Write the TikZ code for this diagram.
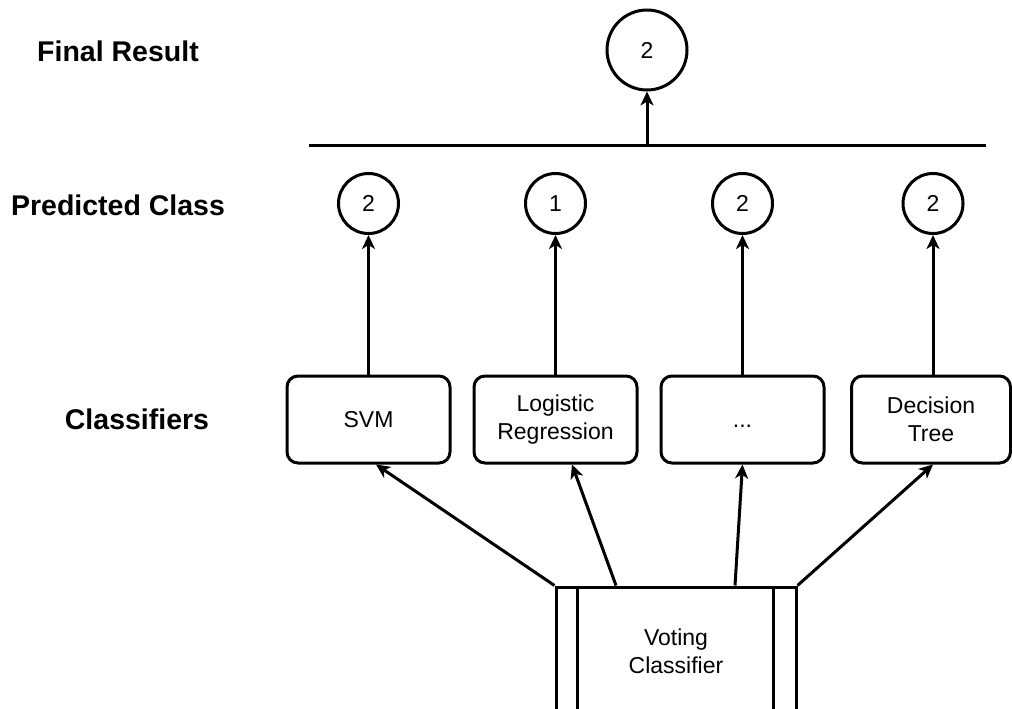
\documentclass[tikz,border=0pt]{standalone}
\usepackage{fontspec}
\setmainfont{Liberation Sans}
\usetikzlibrary{arrows.meta}

\tikzset{
  base/.style={line width=3pt, draw=black},
  body/.style={font=\fontsize{23}{28}\selectfont, align=center},
  level/.style={font=\fontsize{28.5}{34}\selectfont\bfseries, anchor=center},
  classbox/.style={base, body, rounded corners=11pt, minimum width=163pt, minimum height=87pt, inner sep=0pt},
  vote/.style={base, circle, body, minimum size=60pt, inner sep=0pt},
  final/.style={base, circle, body, minimum size=80pt, inner sep=0pt},
  procbox/.style={base, body, minimum width=240pt, minimum height=128pt, inner sep=0pt},
  arr/.style={base, -{Stealth[length=14pt, width=13pt, inset=4pt]}},
}

\begin{document}
\begin{tikzpicture}[x=1pt, y=-1pt]
  \useasboundingbox (0,0) rectangle (1012,709);
  \clip (0,0) rectangle (1012,709);

  % row labels
  \node[level] (lfinal) at (118,51)  {Final Result};
  \node[level] (lpred)  at (118,205) {Predicted Class};
  \node[level] (lclf)   at (137,419) {Classifiers};

  % final result and combining bar
  \node[final] (top) at (647,50) {2};
  \coordinate (barL) at (309,145);
  \coordinate (barR) at (986,145);
  \coordinate (barM) at (647,145);
  \draw[base] (barL) -- (barR);
  \draw[arr] (barM) -- (top.south);

  % classifiers
  \node[classbox] (svm)  at (368.5,419.5) {SVM};
  \node[classbox] (lr)   at (555.5,419.5) {Logistic\\Regression};
  \node[classbox] (dots) at (742.5,419.5) {\raisebox{-8pt}[0pt][0pt]{...}};
  \node[classbox, minimum width=159pt] (dt) at (931,419.5) {Decision\\Tree};

  % predicted classes
  \node[vote] (p1) at (368.5,203.5) {2};
  \node[vote] (p2) at (555.5,203.5) {1};
  \node[vote] (p3) at (742.5,203.5) {2};
  \node[vote] (p4) at (933,203.5)   {2};

  \draw[arr] (svm.north) -- (p1.south);
  \draw[arr] (lr.north)  -- (p2.south);
  \draw[arr] (dots.north) -- (p3.south);
  \draw[arr] ([xshift=2pt]dt.north) -- (p4.south);

  % voting classifier (process box with side bars)
  \node[procbox] (vc) at (676,651) {Voting\\Classifier};
  \draw[base] ([xshift=23pt]vc.north west) -- ([xshift=23pt]vc.south west);
  \draw[base] ([xshift=-24pt]vc.north east) -- ([xshift=-24pt]vc.south east);

  \draw[arr] (vc.north west) -- ([xshift=7.5pt]svm.south);
  \draw[arr] ([xshift=-60pt]vc.north) -- ([xshift=16.5pt]lr.south);
  \draw[arr] ([xshift=59pt]vc.north) -- (dots.south);
  \draw[arr] (vc.north east) -- ([xshift=2pt]dt.south);
\end{tikzpicture}
\end{document}
